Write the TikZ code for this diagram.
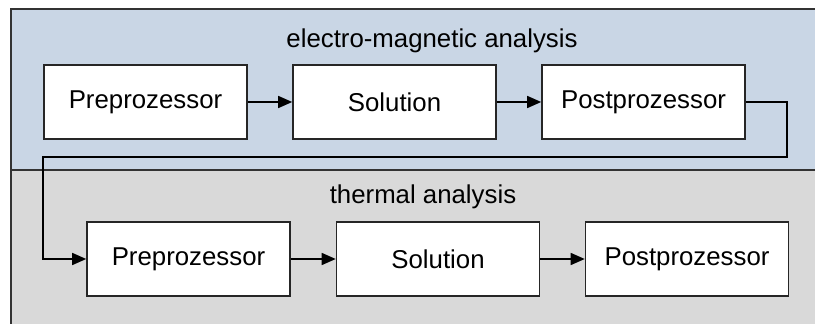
\documentclass[tikz,border=0pt]{standalone}
\usepackage{fontspec}
\setmainfont{Liberation Sans}
\usetikzlibrary{arrows.meta}
\definecolor{emblue}{HTML}{C9D6E5}
\definecolor{thgray}{HTML}{D9D9D9}
\begin{document}
\begin{tikzpicture}[x=0.5pt,y=-0.5pt,
  procbox/.style={draw=black!85,line width=0.8pt,fill=white,minimum width=101.5pt,minimum height=37pt,inner sep=0pt,font=\fontsize{12.9}{15}\selectfont},
  titletext/.style={font=\fontsize{12.9}{15}\selectfont,inner sep=0pt},
  conn/.style={draw=black,line width=0.75pt,-{Triangle[length=7pt,width=6pt]}},
  region/.style={draw=black!80,line width=0.8pt}]
\useasboundingbox (0,0) rectangle (815,324);
\clip (0,0) rectangle (815,324);
\path[region,fill=emblue] (11,9) rectangle (830,170);
\path[region,fill=thgray] (11,170) rectangle (830,340);
\node[titletext] (t1) at (432,41) {electro-magnetic analysis};
\node[titletext] (t2) at (423,197) {thermal analysis};
\node[procbox] (pre1) at (145.5,102) {Preprozessor};
\node[procbox] (sol1) at (394.5,102) {Solution};
\node[procbox] (post1) at (643.5,102) {Postprozessor};
\node[procbox] (pre2) at (188.5,259) {Preprozessor};
\node[procbox] (sol2) at (438,259) {Solution};
\node[procbox] (post2) at (687,259) {Postprozessor};
\coordinate (c1) at (787,102);
\coordinate (c2) at (787,157);
\coordinate (c3) at (43,157);
\coordinate (c4) at (43,259);
\draw[conn] (pre1) -- (sol1);
\draw[conn] (sol1) -- (post1);
\draw[conn] (post1.east) -- (c1) -- (c2) -- (c3) -- (c4) -- (pre2.west);
\draw[conn] (pre2) -- (sol2);
\draw[conn] (sol2) -- (post2);
\end{tikzpicture}
\end{document}
